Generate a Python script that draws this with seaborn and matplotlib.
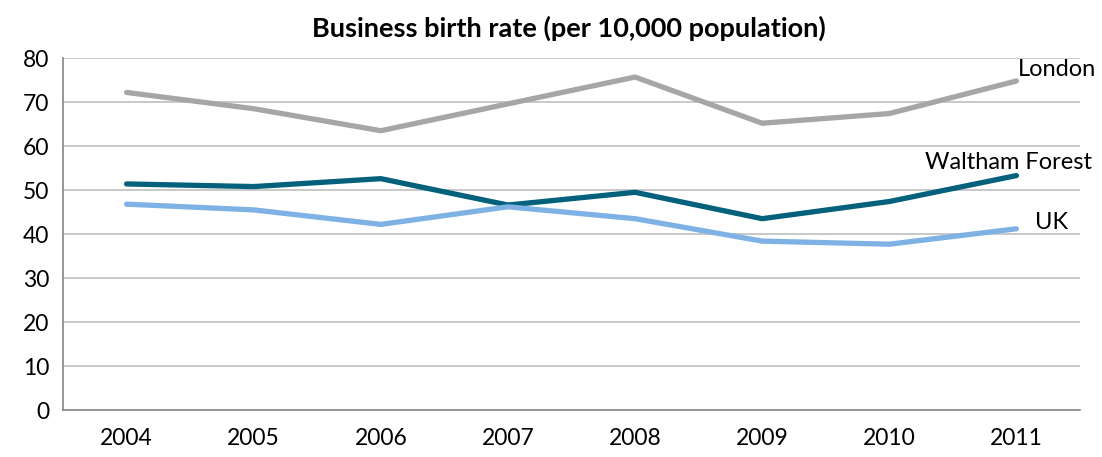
import matplotlib
matplotlib.use("Agg")
import matplotlib.pyplot as plt
import seaborn as sns
import pandas as pd
import numpy as np

years = ["2004", "2005", "2006", "2007", "2008", "2009", "2010", "2011"]
london = [72.2, 68.5, 63.5, 69.6, 75.7, 65.2, 67.4, 74.8]
waltham_forest = [51.4, 50.8, 52.6, 46.6, 49.5, 43.5, 47.4, 53.3]
uk = [46.8, 45.5, 42.2, 46.2, 43.5, 38.4, 37.7, 41.2]
series_names = ["London", "Waltham Forest", "UK"]
colors = {"London": "#A6A6A6", "Waltham Forest": "#04617B", "UK": "#7EB1E4"}

df = pd.DataFrame({
    "pos": list(range(len(years))) * 3,
    "value": london + waltham_forest + uk,
    "series": [s for s in series_names for _ in years],
})

sns.set_style("white")
plt.rcParams["font.family"] = ["Lato", "DejaVu Sans"]
plt.rcParams["text.color"] = "black"
plt.rcParams["xtick.labelcolor"] = "black"
plt.rcParams["ytick.labelcolor"] = "black"

fig = plt.figure(figsize=(11.02, 4.57), dpi=100)
ax = fig.add_axes([0.0572, 0.1028, 0.9228, 0.770])

sns.lineplot(data=df, x="pos", y="value", hue="series", palette=colors,
             hue_order=series_names, linewidth=3.8, legend=False, ax=ax,
             solid_capstyle="round", zorder=3)

ax.set_xlim(-0.5, len(years) - 0.5)
ax.set_ylim(0, 80)
ax.set_yticks(range(0, 81, 10))
ax.set_xticks(range(len(years)))
ax.set_xticklabels(years)
ax.set_xticks(np.arange(-0.5, len(years), 1.0), minor=True)
ax.tick_params(axis="x", which="major", length=0, pad=13, labelsize=16.5, labelcolor="black")
ax.tick_params(axis="x", which="minor", length=6, width=1.2, color="#868686", direction="out")
ax.tick_params(axis="y", which="major", length=6, width=1.2, color="#868686",
               direction="out", labelsize=16.5, pad=4, labelcolor="black")
ax.grid(axis="y", color="#BFBFBF", linewidth=1.2, zorder=0)
ax.set_axisbelow(True)
for side in ["top", "right"]:
    ax.spines[side].set_visible(False)
for side in ["left", "bottom"]:
    ax.spines[side].set_color("#868686")
    ax.spines[side].set_linewidth(1.2)
ax.set_xlabel("")
ax.set_ylabel("")

last = len(years) - 1
ax.annotate("London", (last, london[-1]), xytext=(1, 8), textcoords="offset points",
            ha="left", va="center", fontsize=17, color="black")
ax.annotate("Waltham Forest", (last, waltham_forest[-1]), xytext=(-65.5, 9.4),
            textcoords="offset points", ha="left", va="center", fontsize=17, color="black")
ax.annotate("UK", (last, uk[-1]), xytext=(13.7, 4.3), textcoords="offset points",
            ha="left", va="center", fontsize=17, color="black")

fig.text(0.516, 0.939, "Business birth rate (per 10,000 population)", ha="center",
         va="center", fontsize=19.5, fontweight="bold", color="black")

fig.savefig("out.png", dpi=100)
